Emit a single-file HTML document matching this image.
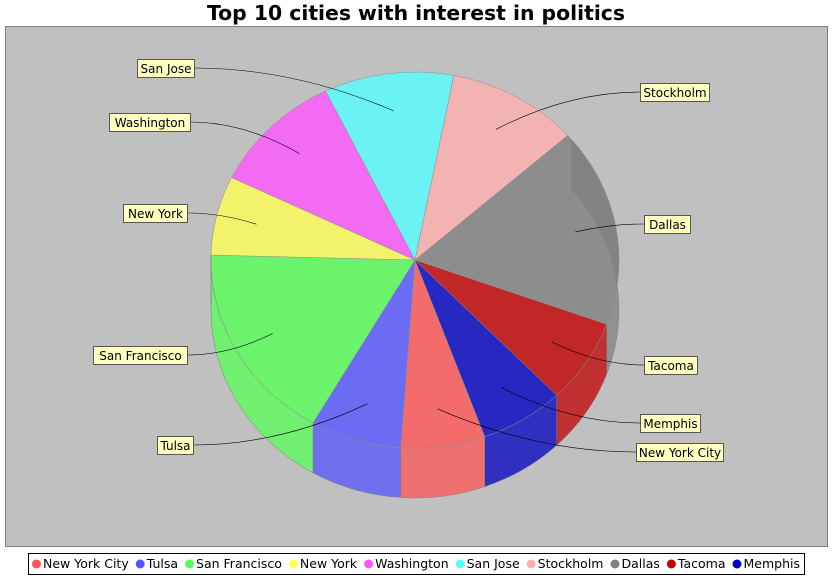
<!DOCTYPE html>
<html><head><meta charset="utf-8"><style>
body{margin:0;background:#fff;width:832px;height:576px;overflow:hidden;font-family:"DejaVu Sans","Liberation Sans",sans-serif}
</style></head><body>
<svg id="c" width="832" height="576" xmlns="http://www.w3.org/2000/svg">
<text x="416" y="20" text-anchor="middle" font-family="DejaVu Sans, sans-serif" font-weight="bold" font-size="20" textLength="418" lengthAdjust="spacingAndGlyphs">Top 10 cities with interest in politics</text>
<rect x="5.5" y="26.5" width="822" height="520" fill="#c0c0c0" stroke="#808080"/>
<g id="walls"></g><g id="tops"></g><g id="links"></g><g id="labels"></g>
<rect x="28.5" y="553.5" width="776" height="21" fill="#fff" stroke="#000"/>
<g id="legend"></g>
</svg>
<script>
const categories=["New York City","Tulsa","San Francisco","New York","Washington","San Jose","Stockholm","Dallas","Tacoma","Memphis"];
const values=[24,26,61.5,24.5,38,37,37.5,61.5,26,24];
const colors=["#ff5555","#5555ff","#55ff55","#ffff55","#ff55ff","#55ffff","#ffafaf","#808080","#c00000","#0000c0"];
const labelBoxes=[[636,443,87],[157,436,36],[93,346,94],[123,204,64],[109,113,81],[137,59,57],[640,83,69],[644,215,46],[644,356,53],[640,414,60]];
const NS="http://www.w3.org/2000/svg";
const cx=415,cy=260,rx=204,ry=188,depth=50,startDeg=-70;
function mk(t,a,p){const e=document.createElementNS(NS,t);for(const k in a)e.setAttribute(k,a[k]);p.appendChild(e);return e;}
function pt(d,dy){const r=d*Math.PI/180;return [cx+rx*Math.cos(r),cy-ry*Math.sin(r)+(dy||0)];}
const total=values.reduce((a,b)=>a+b,0);
let a=startDeg;
const walls=document.getElementById('walls'),tops=document.getElementById('tops'),links=document.getElementById('links'),labels=document.getElementById('labels');
values.forEach((v,i)=>{
  const sweep=v/total*360;const a1=a,a2=a-sweep;a=a2;
  for(let k=-2;k<=2;k++){
    const h0=a1+360*k,l0=a2+360*k;
    const hi=Math.min(h0,40),lo=Math.max(l0,-182);
    if(hi>lo){
      const p1=pt(hi),p2=pt(lo),p3=pt(lo,depth),p4=pt(hi,depth);
      const w=mk('path',{d:`M${p1} A${rx},${ry} 0 0 1 ${p2} L${p3} A${rx},${ry} 0 0 0 ${p4} Z`,fill:colors[i],'fill-opacity':0.75,stroke:'#808080','stroke-width':0.5},walls);
      
      
    }
  }
  const q1=pt(a1),q2=pt(a2);
  const large=sweep>180?1:0;
  const t=mk('path',{d:`M${cx},${cy} L${q1} A${rx},${ry} 0 ${large} 1 ${q2} Z`,fill:colors[i],'fill-opacity':0.8,stroke:'#909090','stroke-width':0.5},tops);
  
  
  const mid=(a1+a2)/2;const ap=[cx+rx*0.8*Math.cos(mid*Math.PI/180),cy-ry*0.8*Math.sin(mid*Math.PI/180)];
  const b=labelBoxes[i];const left=b[0]>415;
  const bx=left?b[0]:b[0]+b[2],by=b[1]+9;
  const l=mk('path',{d:`M${bx},${by} Q${(bx+ap[0])/2},${by} ${ap[0]},${ap[1]}`,fill:'none',stroke:'#000','stroke-width':0.6},links);
  
  
  const r=mk('rect',{x:b[0]+.5,y:b[1]+.5,width:b[2],height:18,fill:'#ffffc0',stroke:'#555'},labels);
  
  
  const tx=mk('text',{x:b[0]+b[2]/2+.5,y:b[1]+14,'text-anchor':'middle','font-size':12},labels);
  tx.textContent=categories[i];
  
  
});
const lg=document.getElementById('legend');let x=32;
categories.forEach((c,i)=>{
  const ci=mk('circle',{cx:x+4.5,cy:564,r:4.5,fill:colors[i]},lg);
  
  
  const t=mk('text',{x:x+11,y:568,'font-size':12.5},lg);
  t.textContent=c;
  
  
  x+=11+t.getComputedTextLength()+7;
});
</script>
</body></html>
